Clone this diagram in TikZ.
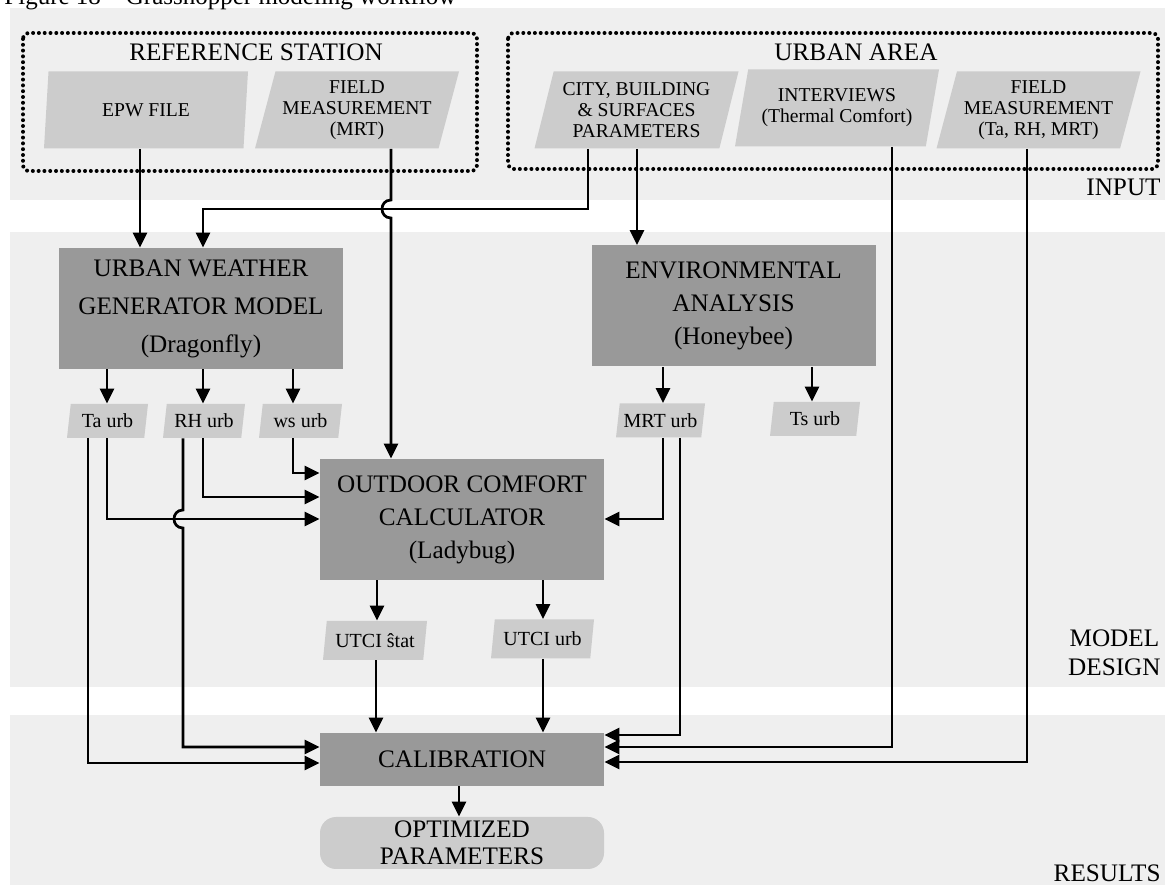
\documentclass[tikz,border=0pt]{standalone}
\usepackage{fontspec}
\setmainfont{Liberation Serif}
\usetikzlibrary{arrows.meta,shapes.geometric}
\definecolor{bandgray}{HTML}{EFEFEF}
\definecolor{boxgray}{HTML}{999999}
\definecolor{itemgray}{HTML}{CCCCCC}
\begin{document}
\begin{tikzpicture}[x=0.5pt,y=-0.5pt,line cap=butt,line join=miter,>={Triangle[length=7.5pt,width=7pt]}]
	\tikzset{band/.style={fill=bandgray,draw=none},
		dotbox/.style={line width=2pt,line cap=round,dash pattern=on 0pt off 2.9pt,rounded corners=3pt},
		item/.style={trapezium,trapezium left angle=71,trapezium right angle=109,trapezium stretches body,
			fill=itemgray,inner sep=0pt,minimum width=102pt,minimum height=38.5pt,align=center,
			font=\fontsize{9.8}{10.6}\selectfont},
		var/.style={item,trapezium left angle=75,trapezium right angle=105,minimum height=17pt,
			font=\fontsize{10}{11}\selectfont},
		proc/.style={fill=boxgray,inner sep=0pt,minimum width=142pt,minimum height=60.5pt,align=center,
			font=\fontsize{12.6}{16.5}\selectfont},
		head/.style={font=\fontsize{12.6}{14.5}\selectfont,align=center,inner sep=0pt},
		conn/.style={->,line width=1.35pt}}
	\useasboundingbox (0,0) rectangle (1168,886);
	% bands
	\fill[band] (10,8) rectangle (1165,200);
	\fill[band] (10,232) rectangle (1165,687);
	\fill[band] (10,715) rectangle (1165,885);
	\node[anchor=base west,inner sep=0pt,font=\fontsize{12.5}{14}\selectfont] (caption) at (4,5) {Figure 18 – Grasshopper modeling workflow};
	\node[head,anchor=east] (input) at (1161,187) {INPUT};
	\node[head,anchor=east] (design) at (1161,653) {MODEL\\DESIGN};
	\node[head,anchor=east] (results) at (1161,873) {RESULTS};
	% input
	\draw[dotbox] (23,33) rectangle (477,171);
	\draw[dotbox] (508,33) rectangle (1158,169);
	\node[head] (refst) at (256,52) {REFERENCE STATION};
	\node[head] (urban) at (856,52) {URBAN AREA};
	\node[item] (epw) at (146,110) {EPW FILE};
	\node[item] (fmref) at (357,110) {FIELD\\MEASUREMENT\\(MRT)};
	\node[item] (city) at (636.5,110) {CITY, BUILDING\\\& SURFACES\\PARAMETERS};
	\node[item] (interv) at (837,108) {INTERVIEWS\\(Thermal Comfort)};
	\node[item] (fmurb) at (1038.5,110) {FIELD\\MEASUREMENT\\(Ta, RH, MRT)};
	% model design
	\node[proc,font=\fontsize{12.6}{19}\selectfont] (uwg) at (201,308.5) {URBAN WEATHER\\GENERATOR MODEL\\(Dragonfly)};
	\node[proc] (env) at (733.5,306) {ENVIRONMENTAL\\ANALYSIS\\(Honeybee)};
	\node[proc] (occ) at (462,519.5) {OUTDOOR COMFORT\\CALCULATOR\\(Ladybug)};
	\node[var,minimum width=40.5pt] (taurb) at (107.5,421) {Ta urb};
	\node[var,minimum width=41pt] (rhurb) at (204,421) {RH urb};
	\node[var,minimum width=41.5pt] (wsurb) at (300.5,421) {ws urb};
	\node[var,minimum width=44.5pt] (mrturb) at (660.5,420.5) {MRT urb};
	\node[var,minimum width=45pt] (tsurb) at (815,419) {Ts urb};
	\node[var,minimum width=52pt,minimum height=19.5pt] (utcist) at (375,640.5) {UTCI ŝtat};
	\node[var,minimum width=51.5pt,minimum height=19.5pt] (utciurb) at (542.5,639) {UTCI urb};
	% results
	\node[proc,minimum height=26.5pt] (cal) at (462,759.5) {CALIBRATION};
	\node[proc,fill=itemgray,rounded corners=8pt,minimum height=26pt,font=\fontsize{12.6}{13.5}\selectfont] (opt) at (462,843) {OPTIMIZED\\PARAMETERS};
	% connectors
	\draw[conn] (epw.south -| 140,0) -- (uwg.north -| 140,0);
	\draw[conn] (city.south -| 588,0) |- (203,209) -- (uwg.north -| 203,0);
	\draw[conn] (fmref.south -| 391,0) -- (391,200) .. controls (379,200) and (379,218) .. (391,218) -- (occ.north -| 391,0);
	\draw[conn] (city.south -| 637,0) -- (env.north -| 637,0);
	\draw[conn] (interv.south -| 892,0) |- (cal.east |- 0,747);
	\draw[conn] (fmurb.south -| 1027,0) |- (cal.east |- 0,762);
	\foreach \v/\xx in {taurb/107,rhurb/203,wsurb/293}{
			\draw[conn] (uwg.south -| \xx,0) -- (\v.north -| \xx,0);}
	\foreach \v/\xx in {mrturb/663,tsurb/812}{
			\draw[conn] (env.south -| \xx,0) -- (\v.north -| \xx,0);}
	\draw[conn] (taurb.south -| 88,0) |- (cal.west |- 0,763);
	\draw[conn] (taurb.south -| 107,0) |- (occ.west |- 0,519);
	\draw[conn] (rhurb.south -| 183,0) -- (183,510) .. controls (171,510) and (171,528) .. (183,528) |- (cal.west |- 0,747);
	\draw[conn] (rhurb.south -| 203,0) |- (occ.west |- 0,497);
	\draw[conn] (wsurb.south -| 293,0) |- (occ.west |- 0,473);
	\draw[conn] (mrturb.south -| 663,0) |- (occ.east |- 0,519);
	\draw[conn] (mrturb.south -| 680,0) |- (cal.east |- 0,735);
	\draw[conn] (occ.south -| 377,0) -- (utcist.north -| 377,0);
	\draw[conn] (occ.south -| 543,0) -- (utciurb.north -| 543,0);
	\draw[conn] (utcist.south -| 376,0) -- (cal.north -| 376,0);
	\draw[conn] (utciurb.south -| 543,0) -- (cal.north -| 543,0);
	\draw[conn] (cal.south -| 459,0) -- (opt.north -| 459,0);
\end{tikzpicture}
\end{document}
